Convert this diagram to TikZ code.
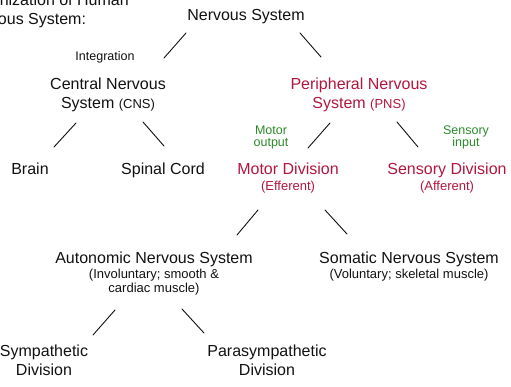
\documentclass[tikz,border=0pt]{standalone}
\usepackage{fontspec}
\setmainfont{Liberation Sans}
\usepackage{xcolor}
\usepackage{tikz}
\usetikzlibrary{positioning}
\definecolor{nsRed}{HTML}{B3153F}
\definecolor{nsGreen}{HTML}{2A8A2A}
\definecolor{nsInk}{HTML}{111111}
\newcommand{\nssub}[1]{{\fontsize{13}{14}\selectfont #1}}
\tikzset{
  ns diagram/.style={font=\fontsize{16}{19}\selectfont, text=nsInk,
    line cap=round, line join=round},
  ns term/.style={inner sep=0pt, align=center, anchor=base},
  ns key term/.style={ns term, text=nsRed},
  ns note/.style={ns term, font=\fontsize{12.5}{12.5}\selectfont},
  ns io note/.style={ns note, text=nsGreen},
  ns link/.style={draw=nsInk, line width=0.9pt}
}

\begin{document}
\begin{tikzpicture}[ns diagram, x=1pt, y=-1pt]
\useasboundingbox (0,0) rectangle (511,387);
\clip (0,0) rectangle (511,387);
% base = last line of each node
\node[ns term, align=left, anchor=base west] (title) at (-36,25) {Organization of Human\\Nervous System:};
\node[ns term] (ns) at (246,21) {Nervous System};
\node[ns note] (integ) at (105,61) {Integration};
\node[ns term] (cns) at (108,109) {Central Nervous\\System \nssub{(CNS)}};
\node[ns key term] (pns) at (359,109) {Peripheral Nervous\\System \nssub{(PNS)}};
\node[ns io note] (motorout) at (271,147) {Motor\\output};
\node[ns io note] (sensin) at (466,147) {Sensory\\input};
\node[ns term] (brain) at (30,175) {Brain};
\node[ns term] (spinal) at (163,175) {Spinal Cord};
\node[ns key term] (motor) at (288,191) {Motor Division\\[-3pt]\nssub{(Efferent)}};
\node[ns key term] (sensory) at (447,191) {Sensory Division\\[-3pt]\nssub{(Afferent)}};
\node[ns term] (ans) at (154,292) {Autonomic Nervous System\\[-4pt]\nssub{(Involuntary; smooth \&}\\[-5pt]\nssub{cardiac muscle)}};
\node[ns term] (sns) at (409,278) {Somatic Nervous System\\[-4pt]\nssub{(Voluntary; skeletal muscle)}};
\node[ns term] (symp) at (44,375) {Sympathetic\\Division};
\node[ns term] (para) at (267,375) {Parasympathetic\\Division};
% branches
\draw[ns link] ([shift={(-60,12)}]ns.base) -- ([shift={(56,-51)}]cns.base);
\draw[ns link] ([shift={(54,12)}]ns.base) -- ([shift={(-38,-52)}]pns.base);
\draw[ns link] ([shift={(-32,14)}]cns.base) -- ([shift={(24,-28)}]brain.base);
\draw[ns link] ([shift={(35,13)}]cns.base) -- ([shift={(1,-29)}]spinal.base);
\draw[ns link] ([shift={(-29,14)}]pns.base) -- ([shift={(20,-43)}]motor.base);
\draw[ns link] ([shift={(38,13)}]pns.base) -- ([shift={(-29,-44)}]sensory.base);
\draw[ns link] ([shift={(-30,19)}]motor.base) -- ([shift={(83,-57)}]ans.base);
\draw[ns link] ([shift={(37,19)}]motor.base) -- ([shift={(-62,-44)}]sns.base);
\draw[ns link] ([shift={(-39,18)}]ans.base) -- ([shift={(49,-40)}]symp.base);
\draw[ns link] ([shift={(28,17)}]ans.base) -- ([shift={(-63,-42)}]para.base);
\end{tikzpicture}
\end{document}
